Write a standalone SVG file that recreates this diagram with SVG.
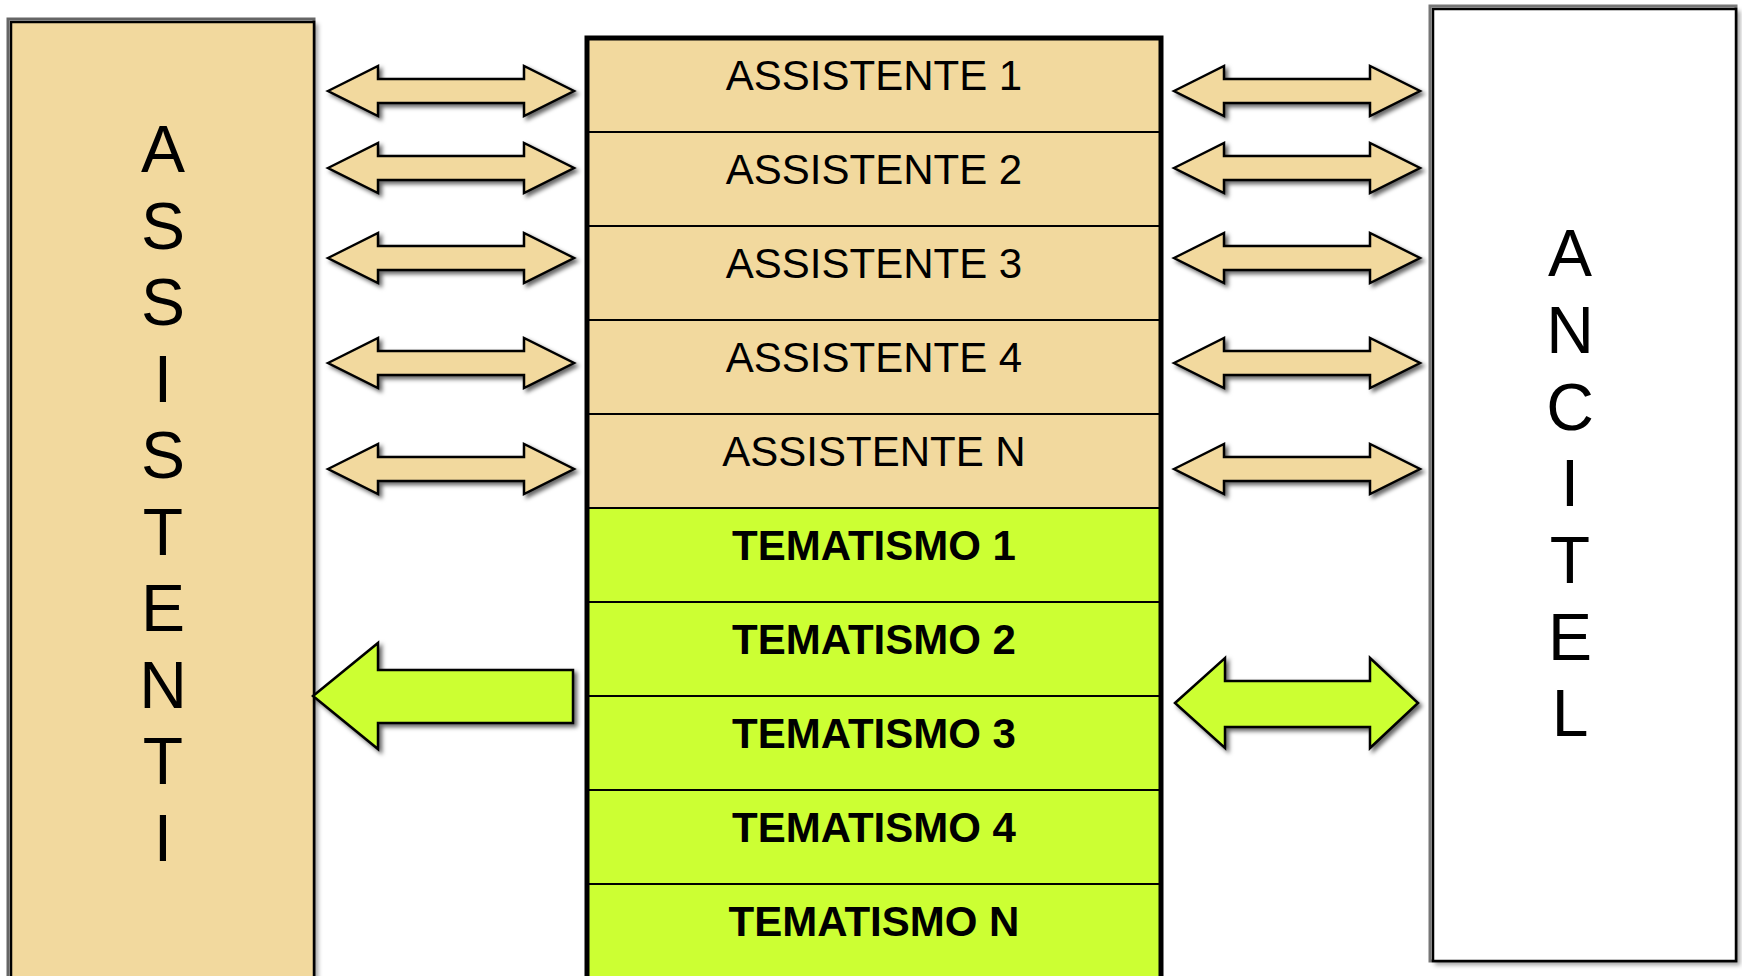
<svg xmlns="http://www.w3.org/2000/svg" xmlns:xlink="http://www.w3.org/1999/xlink" width="1742" height="976" viewBox="0 0 1742 976">
<style>
.lbl{font-family:"Liberation Sans",Arial,sans-serif;fill:#000}
.big{font-size:66px;text-anchor:middle}
.row{font-size:42px;text-anchor:middle}
.bold{font-weight:bold}
.tan{fill:#F2D99E}
.green{fill:#CCFF33}
.arw{stroke:#000;stroke-width:2.5;stroke-linejoin:miter;filter:url(#sh)}
.div{stroke:#000;stroke-width:2}
</style>
<defs>
<filter id="sh" x="-10%" y="-30%" width="130%" height="170%">
<feDropShadow dx="3" dy="3" stdDeviation="2" flood-color="#000" flood-opacity="0.6"/>
</filter>
<filter id="bsh" x="-5%" y="-5%" width="110%" height="110%">
<feDropShadow dx="3" dy="3" stdDeviation="2" flood-color="#000" flood-opacity="0.35"/>
</filter>
<path id="dbl" d="M0,0 L50,-25 L50,-12 L196,-12 L196,-25 L246,0 L196,25 L196,12 L50,12 L50,25 Z"/>
</defs>
<rect width="1742" height="976" fill="#fff"/>

<g id="assistenti">
<rect x="8" y="19" width="306" height="960" fill="none" stroke="#666" stroke-width="3"/>
<rect x="11" y="22" width="303" height="960" class="tan" stroke="#000" stroke-width="2.5" filter="url(#bsh)"/>
<text class="lbl big" x="163" y="172">A</text>
<text class="lbl big" x="163" y="248.5">S</text>
<text class="lbl big" x="163" y="325">S</text>
<text class="lbl big" x="163" y="401.5">I</text>
<text class="lbl big" x="163" y="478">S</text>
<text class="lbl big" x="163" y="554.5">T</text>
<text class="lbl big" x="163" y="631">E</text>
<text class="lbl big" x="163" y="707.5">N</text>
<text class="lbl big" x="163" y="784">T</text>
<text class="lbl big" x="163" y="860.5">I</text>
</g>

<g id="ancitel">
<rect x="1430" y="6" width="306" height="955" fill="none" stroke="#777" stroke-width="3"/>
<rect x="1433" y="9" width="303" height="952" fill="#fff" stroke="#000" stroke-width="2.5" filter="url(#bsh)"/>
<text class="lbl big" x="1570" y="276">A</text>
<text class="lbl big" x="1570" y="353">N</text>
<text class="lbl big" x="1570" y="429.5">C</text>
<text class="lbl big" x="1570" y="506">I</text>
<text class="lbl big" x="1570" y="583">T</text>
<text class="lbl big" x="1570" y="659.5">E</text>
<text class="lbl big" x="1570" y="736">L</text>
</g>

<g id="stack">
<rect x="587" y="38" width="574" height="470" class="tan"/>
<rect x="587" y="508" width="574" height="470" class="green"/>
<line class="div" x1="587" y1="132" x2="1161" y2="132"/>
<line class="div" x1="587" y1="226" x2="1161" y2="226"/>
<line class="div" x1="587" y1="320" x2="1161" y2="320"/>
<line class="div" x1="587" y1="414" x2="1161" y2="414"/>
<line class="div" x1="587" y1="508" x2="1161" y2="508"/>
<line class="div" x1="587" y1="602" x2="1161" y2="602"/>
<line class="div" x1="587" y1="696" x2="1161" y2="696"/>
<line class="div" x1="587" y1="790" x2="1161" y2="790"/>
<line class="div" x1="587" y1="884" x2="1161" y2="884"/>
<rect x="587" y="38" width="574" height="945" fill="none" stroke="#000" stroke-width="5"/>
<g id="assistente1"><text class="lbl row" x="874" y="90">ASSISTENTE 1</text></g>
<g id="assistente2"><text class="lbl row" x="874" y="184">ASSISTENTE 2</text></g>
<g id="assistente3"><text class="lbl row" x="874" y="278">ASSISTENTE 3</text></g>
<g id="assistente4"><text class="lbl row" x="874" y="372">ASSISTENTE 4</text></g>
<g id="assistenteN"><text class="lbl row" x="874" y="466">ASSISTENTE N</text></g>
<g id="tematismo1"><text class="lbl row bold" x="874" y="560">TEMATISMO 1</text></g>
<g id="tematismo2"><text class="lbl row bold" x="874" y="654">TEMATISMO 2</text></g>
<g id="tematismo3"><text class="lbl row bold" x="874" y="748">TEMATISMO 3</text></g>
<g id="tematismo4"><text class="lbl row bold" x="874" y="842">TEMATISMO 4</text></g>
<g id="tematismoN"><text class="lbl row bold" x="874" y="936">TEMATISMO N</text></g>
</g>

<g id="connectors">
<use xlink:href="#dbl" x="328" y="91" class="tan arw"/>
<use xlink:href="#dbl" x="328" y="168" class="tan arw"/>
<use xlink:href="#dbl" x="328" y="258" class="tan arw"/>
<use xlink:href="#dbl" x="328" y="363" class="tan arw"/>
<use xlink:href="#dbl" x="328" y="469" class="tan arw"/>
<use xlink:href="#dbl" x="1174" y="91" class="tan arw"/>
<use xlink:href="#dbl" x="1174" y="168" class="tan arw"/>
<use xlink:href="#dbl" x="1174" y="258" class="tan arw"/>
<use xlink:href="#dbl" x="1174" y="363" class="tan arw"/>
<use xlink:href="#dbl" x="1174" y="469" class="tan arw"/>
<path class="green arw" d="M313,696 L378,643 L378,670 L573,670 L573,723 L378,723 L378,749 Z"/>
<path class="green arw" d="M1175,703 L1225,658 L1225,681 L1370,681 L1370,658 L1418,703 L1370,748 L1370,727 L1225,727 L1225,748 Z"/>
</g>
</svg>
